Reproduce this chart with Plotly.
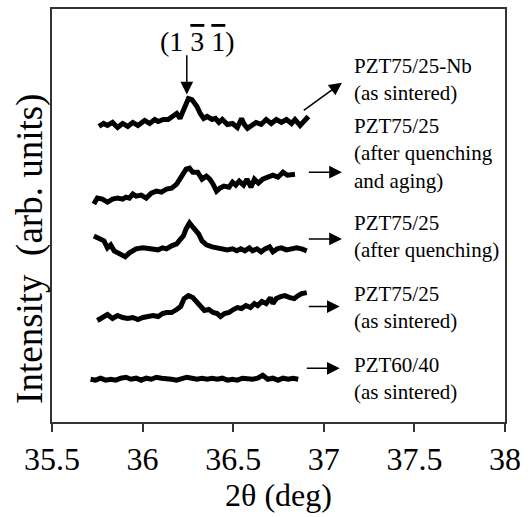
import plotly.graph_objects as go

# ---------------- data (2θ in deg, intensity in arb. units) ----------------
x_nb = [35.759, 35.785, 35.806, 35.834, 35.862, 35.890, 35.918, 35.946, 35.974, 36.011,
        36.039, 36.067, 36.086, 36.114, 36.141, 36.173, 36.188, 36.206, 36.229, 36.253,
        36.272, 36.300, 36.318, 36.337, 36.356, 36.384, 36.402, 36.421, 36.440, 36.468,
        36.496, 36.523, 36.546, 36.561, 36.579, 36.602, 36.626, 36.654, 36.682, 36.710,
        36.738, 36.766, 36.794, 36.822, 36.841, 36.869, 36.887, 36.915]
y_nb = [297, 300, 298, 301, 296, 300, 297, 301, 298, 303,
        300, 304, 302, 304, 304, 309, 310, 305, 315, 325,
        324, 317, 310, 305, 307, 304, 305, 301, 304, 299,
        300, 296, 305, 299, 295, 298, 301, 299, 304, 300,
        304, 301, 304, 300, 304, 298, 302, 307]

x_aging = [35.731, 35.750, 35.778, 35.806, 35.834, 35.862, 35.890, 35.908, 35.927, 35.946,
           35.964, 35.992, 36.020, 36.048, 36.076, 36.104, 36.132, 36.160, 36.188, 36.216,
           36.240, 36.259, 36.277, 36.304, 36.328, 36.352, 36.371, 36.389, 36.408, 36.427,
           36.449, 36.477, 36.496, 36.514, 36.533, 36.557, 36.576, 36.598, 36.617, 36.639,
           36.663, 36.691, 36.719, 36.747, 36.775, 36.799, 36.822, 36.841]
y_aging = [219, 225, 224, 221, 224, 225, 224, 226, 225, 229,
           227, 228, 225, 230, 232, 231, 234, 235, 239, 247,
           254, 255, 251, 251, 244, 247, 244, 239, 232, 235,
           237, 236, 241, 238, 242, 238, 244, 236, 244, 240,
           244, 246, 248, 246, 251, 248, 249, 249]

x_quench = [35.731, 35.759, 35.787, 35.806, 35.824, 35.843, 35.871, 35.904, 35.927, 35.964,
            36.002, 36.030, 36.058, 36.086, 36.110, 36.132, 36.160, 36.188, 36.206, 36.225,
            36.240, 36.259, 36.281, 36.309, 36.328, 36.352, 36.384, 36.412, 36.440, 36.468,
            36.496, 36.520, 36.542, 36.564, 36.589, 36.607, 36.631, 36.654, 36.676, 36.701,
            36.719, 36.743, 36.766, 36.794, 36.822, 36.850, 36.878, 36.906]
y_quench = [187, 184, 182, 175, 178, 172, 169, 166, 170, 174,
            175, 174, 174, 173, 175, 174, 177, 179, 183, 187,
            194, 200, 195, 189, 182, 178, 176, 175, 174, 173,
            174, 172, 174, 172, 175, 172, 174, 171, 174, 176,
            171, 174, 175, 173, 174, 175, 174, 172]

x_sint = [35.750, 35.778, 35.806, 35.834, 35.862, 35.890, 35.918, 35.946, 35.974, 36.002,
          36.030, 36.058, 36.086, 36.110, 36.132, 36.160, 36.188, 36.210, 36.229, 36.253,
          36.277, 36.300, 36.322, 36.341, 36.365, 36.389, 36.412, 36.430, 36.452, 36.477,
          36.501, 36.523, 36.546, 36.570, 36.595, 36.617, 36.635, 36.658, 36.682, 36.706,
          36.719, 36.738, 36.762, 36.785, 36.813, 36.837, 36.859, 36.878, 36.906]
y_sint = [102, 105, 108, 104, 107, 105, 104, 105, 103, 105,
          106, 107, 106, 109, 110, 110, 113, 116, 124, 127,
          125, 120, 116, 112, 113, 110, 109, 106, 109, 110,
          113, 115, 114, 117, 115, 119, 117, 121, 119, 125,
          119, 124, 126, 127, 125, 124, 127, 129, 130]

x_6040 = [35.713, 35.740, 35.768, 35.796, 35.824, 35.852, 35.880, 35.908, 35.936, 35.964,
          35.992, 36.020, 36.048, 36.076, 36.104, 36.132, 36.160, 36.188, 36.216, 36.244,
          36.272, 36.300, 36.328, 36.356, 36.384, 36.412, 36.440, 36.468, 36.496, 36.523,
          36.551, 36.579, 36.607, 36.635, 36.663, 36.691, 36.719, 36.747, 36.775, 36.803,
          36.831, 36.859]
y_6040 = [43, 42, 44, 42, 43, 42, 44, 45, 43, 44,
          42, 44, 43, 45, 44, 44, 43, 42, 44, 45,
          44, 43, 44, 43, 44, 43, 44, 42, 43, 42,
          44, 43, 43, 44, 47, 43, 44, 42, 44, 43,
          44, 43]

series = [
    ("PZT75/25-Nb<br>(as sintered)", x_nb, y_nb),
    ("PZT75/25<br>(after quenching<br>and aging)", x_aging, y_aging),
    ("PZT75/25<br>(after quenching)", x_quench, y_quench),
    ("PZT75/25<br>(as sintered)", x_sint, y_sint),
    ("PZT60/40<br>(as sintered)", x_6040, y_6040),
]

# label placement: (arrow tail x, arrow tail y, arrow head x, arrow head y, label y)
label_pos = [
    (36.881, 312, 37.100, 341, 344),
    (36.909, 251, 37.100, 251, 270),
    (36.909, 184, 37.100, 184, 186),
    (36.909, 116, 37.088, 116, 115),
    (36.898, 54, 37.088, 54, 44),
]

x_ticks = [35.5, 36, 36.5, 37, 37.5, 38]
x_ticktext = ["35.5", "36", "36.5", "37", "37.5", "38"]

FONT = "Liberation Serif"
OVL = "<span style='text-decoration:overline'>{}</span>"
peak_label = "(1 " + OVL.format("3") + " " + OVL.format("1") + ")"

fig = go.Figure()
for name, xs, ys in series:
    fig.add_trace(go.Scatter(x=xs, y=ys, mode="lines",
                             line=dict(color="black", width=5, shape="linear"),
                             name=name.replace("<br>", " "), showlegend=False))

annotations = []
for (name, _, _), (tx, ty, hx, hy, ly) in zip(series, label_pos):
    annotations.append(dict(x=hx, y=hy, ax=tx, ay=ty, xref="x", yref="y",
                            axref="x", ayref="y", text="", showarrow=True,
                            arrowhead=2, arrowsize=1.7, arrowwidth=1.5,
                            arrowcolor="black"))
    annotations.append(dict(x=37.156, y=ly, xref="x", yref="y", text=name,
                            showarrow=False, xanchor="left", yanchor="middle",
                            align="left", font=dict(family=FONT, size=21, color="black")))

# peak marker
annotations.append(dict(x=36.244, y=329, ax=36.244, ay=370, xref="x", yref="y",
                        axref="x", ayref="y", text="", showarrow=True,
                        arrowhead=2, arrowsize=1.7, arrowwidth=1.5, arrowcolor="black"))
annotations.append(dict(x=36.305, y=382, xref="x", yref="y",
                        text=peak_label, showarrow=False,
                        xanchor="center", yanchor="middle",
                        font=dict(family=FONT, size=28, color="black")))
# y-axis title
annotations.append(dict(x=-0.05, y=0.42, xref="paper", yref="paper",
                        text="Intensity  (arb. units)", showarrow=False, textangle=-90,
                        xanchor="center", yanchor="middle",
                        font=dict(family=FONT, size=37, color="black")))

fig.update_layout(
    width=531, height=517,
    margin=dict(l=52, r=26, t=7, b=95),
    paper_bgcolor="white", plot_bgcolor="white",
    annotations=annotations,
    font=dict(family=FONT, color="black"),
    xaxis=dict(range=[35.5, 38], tickvals=x_ticks, ticktext=x_ticktext,
               ticks="outside", ticklen=8, tickwidth=1.5, tickcolor="#333",
               showline=True, linecolor="#333", linewidth=1.5, mirror=True,
               showgrid=False, zeroline=False,
               tickfont=dict(family=FONT, size=32, color="black"),
               title=dict(text="2θ (deg)", font=dict(family=FONT, size=32, color="black"),
                          standoff=0)),
    yaxis=dict(range=[0, 415], showticklabels=False, ticks="",
               showline=True, linecolor="#333", linewidth=1.5, mirror=True,
               showgrid=False, zeroline=False),
)

fig.write_html("out.html")
